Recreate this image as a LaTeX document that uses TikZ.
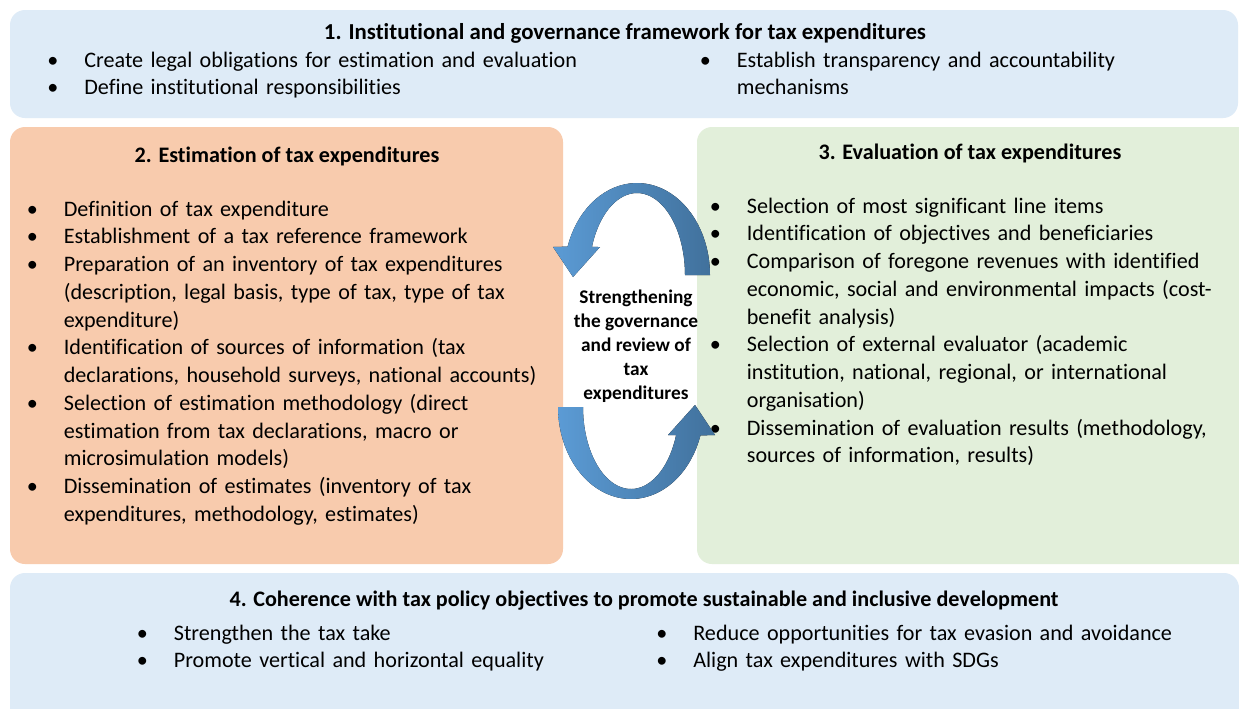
\documentclass[tikz,border=0pt]{standalone}
\usepackage{fontspec}
\setmainfont{Carlito}[Ligatures=NoCommon]
\usetikzlibrary{positioning}
\definecolor{govblue}{RGB}{222,235,247}
\definecolor{estorange}{RGB}{248,203,173}
\definecolor{evalgreen}{RGB}{226,239,218}
\definecolor{arrowdark}{RGB}{65,113,156}
\definecolor{arrowlight}{RGB}{91,155,213}
\newlength{\bulletgap}
\setlength{\bulletgap}{0.74cm}
\newcommand{\itmfirst}{\hangindent=\bulletgap\hangafter=1\makebox[\bulletgap][l]{\textbullet}}
\newcommand{\itm}{\par\noindent\itmfirst}
\newcommand{\cyclearrow}[1]{%
  \fill[cycle shade,#1] plot[domain=0:162,samples=40] ({637+73*cos(\x)},{275-92*sin(\x)})
    -- (553,247) -- (573,277) -- (600,247)
    -- plot[domain=160:0,samples=40] ({637+48*cos(\x)},{275-82*sin(\x)}) -- cycle;}
\tikzset{
  panel/.style={rounded corners=0.3cm},
  heading/.style={font=\fontsize{12.6}{15.8}\selectfont\bfseries, inner sep=0pt},
  bullets/.style={font=\fontsize{12.6}{15.8}\selectfont, text width=12cm, align=left,
                  inner sep=0pt, anchor=base west},
  hub/.style={font=\fontsize{11}{13.66}\selectfont\bfseries, align=center, inner sep=0pt},
  cycle shade/.style={left color=arrowlight, right color=arrowdark},
}
\begin{document}
\begin{tikzpicture}[x=0.02cm, y=-0.02cm]
  \clip (0,0) rectangle (1239,708);
  \fill[white] (0,0) rectangle (1239,708);
  % panels
  \fill[panel, govblue] (10,10) rectangle (1238,118);
  \fill[panel, estorange] (10,127) rectangle (563,564);
  \fill[panel, evalgreen] (697,127) rectangle (1260,564);
  \fill[panel, govblue] (10,573) rectangle (1239,730);
  % 1. framework
  \node[heading, font=\fontsize{13}{15.8}\selectfont\bfseries] (insttitle) at (625,33)
    {1. Institutional and governance framework for tax expenditures};
  \node[bullets] (instleft) at (47,67) {\itmfirst Create legal obligations for estimation and evaluation
    \itm Define institutional responsibilities\par};
  \node[bullets] (instright) at (699.5,67) {\itmfirst Establish transparency and accountability\newline mechanisms\par};
  % 2. estimation
  \node[heading] (esttitle) at (287,156) {2. Estimation of tax expenditures};
  \node[bullets] (estlist) at (26.5,216) {\itmfirst Definition of tax expenditure
    \itm Establishment of a tax reference framework
    \itm Preparation of an inventory of tax expenditures\newline (description, legal basis, type of tax, type of tax\newline expenditure)
    \itm Identification of sources of information (tax\newline declarations, household surveys, national accounts)
    \itm Selection of estimation methodology (direct\newline estimation from tax declarations, macro or\newline microsimulation models)
    \itm Dissemination of estimates (inventory of tax\newline expenditures, methodology, estimates)\par};
  % 3. evaluation
  \node[heading] (evaltitle) at (970,153) {3. Evaluation of tax expenditures};
  \node[bullets] (evallist) at (709.5,213) {\itmfirst Selection of most significant line items
    \itm Identification of objectives and beneficiaries
    \itm Comparison of foregone revenues with identified\newline economic, social and environmental impacts (cost-\newline benefit analysis)
    \itm Selection of external evaluator (academic\newline institution, national, regional, or international\newline organisation)
    \itm Dissemination of evaluation results (methodology,\newline sources of information, results)\par};
  % 4. coherence
  \node[heading] (cohtitle) at (644,601) {4. Coherence with tax policy objectives to promote sustainable and inclusive development};
  \node[bullets] (cohleft) at (136.5,640) {\itmfirst Strengthen the tax take
    \itm Promote vertical and horizontal equality\par};
  \node[bullets] (cohright) at (656,640) {\itmfirst Reduce opportunities for tax evasion and avoidance
    \itm Align tax expenditures with SDGs\par};
  % review cycle
  \cyclearrow{}
  \cyclearrow{rotate around={180:(634,341)}}
  \node[hub] (hub) at (636,346) {Strengthening\\the governance\\and review of\\tax\\expenditures};
\end{tikzpicture}
\end{document}
